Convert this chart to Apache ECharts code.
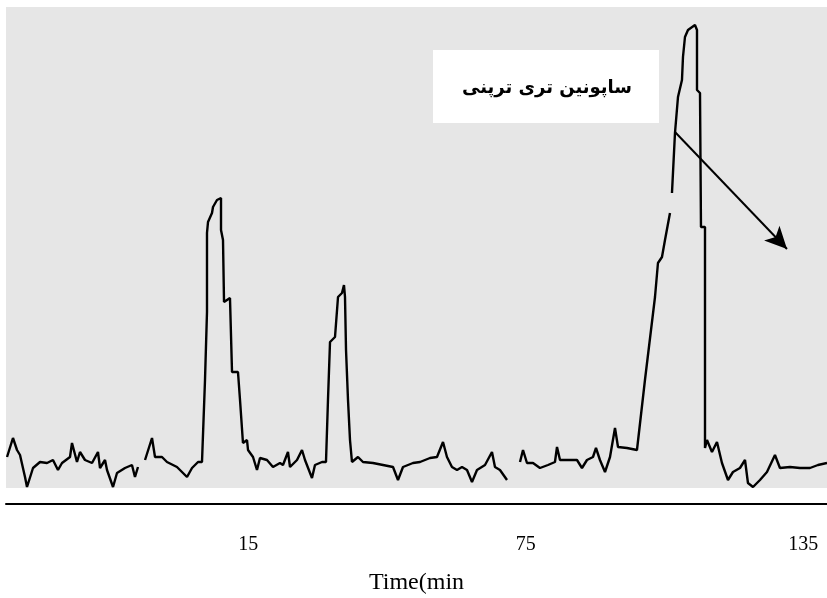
<!DOCTYPE html>
<html>
<head>
<meta charset="utf-8">
<script src="https://cdn.jsdelivr.net/npm/echarts@6/dist/echarts.min.js"></script>
<style>html,body{margin:0;padding:0;background:#fff;}#c{width:827px;height:598px;}</style>
</head>
<body>
<div id="c"></div>
<script>
// Time (min)
const times = [
 -37.16,-35.87,-35.0,-34.35,-33.27,-32.84,-31.54,-30.03,-28.51,-27.22,-26.14,-25.27,-23.54,-23.11,-22.03,-21.38,-20.30,-18.78,-17.49,-17.05,-15.97,-15.54,-14.24,-13.38,-11.65,-10.14,-9.49,-8.84,
 -8.0,
 -7.32,-5.81,-5.16,-3.65,-2.57,-0.41,1.76,2.84,4.14,5.0,
 5.65,6.08,6.08,6.30,7.16,7.38,8.24,8.46,9.11,9.11,9.54,9.76,11.05,11.49,12.78,13.22,13.86,
 14.73,14.95,16.03,16.89,17.54,19.05,20.35,21.86,22.51,23.59,24.03,25.54,26.62,27.27,28.78,29.43,30.95,31.81,
 32.24,32.68,33.76,34.41,35.27,35.70,35.92,36.14,36.57,37.0,37.43,
 38.73,39.81,41.97,44.14,46.30,47.38,48.46,50.62,52.14,54.30,55.81,57.11,57.97,59.05,60.14,61.22,62.30,63.38,64.46,66.19,67.70,68.35,69.43,70.95,
 72.5,
 73.76,74.41,75.27,76.57,78.08,79.81,81.32,81.76,82.41,84.57,86.08,87.16,88.24,89.54,90.19,91.05,92.14,93.22,94.30,94.95,96.89,99.05,
 100.78,102.95,103.59,104.46,105.11,106.19,
 106.4,
 106.62,107.27,107.92,108.78,109.0,109.43,110.08,111.59,112.03,112.03,112.68,112.89,113.76,113.76,113.76,
 114.19,115.27,116.35,117.43,118.73,119.81,121.32,122.41,123.05,124.14,125.65,127.16,128.89,129.97,132.14,134.30,136.46,138.19,140.14
];
// Detector signal (arbitrary units)
const signal = [
 31,50,38,33,11,1,20,26,25,28,18,25,31,45,26,36,28,25,36,20,28,18,1,15,20,23,11,21,
 null,
 28,50,31,31,26,21,11,20,26,26,
 108,176,255,266,275,281,288,290,290,258,248,186,190,116,116,88,45,
 48,38,31,18,30,28,21,25,23,36,21,28,38,28,10,23,26,26,
 88,146,151,191,195,203,191,138,88,48,26,
 31,26,25,23,21,8,21,25,26,30,31,46,31,21,18,21,18,6,18,23,36,21,18,8,
 null,
 26,38,25,25,20,23,26,41,28,28,28,20,28,31,40,28,16,31,60,41,40,38,
 108,191,225,231,248,275,
 null,
 295,355,391,408,431,451,458,463,458,398,395,261,261,188,40,
 48,36,46,25,8,16,20,28,5,1,8,16,33,20,21,20,20,23,25
];
const tickLabels = [15, 75, 135];
const axisName = 'Time(min';
const annotationText = 'ساپونین تری ترپنی';
const arrowFrom = [107.27, 356];
const arrowTo = [131.49, 239];

const chart = echarts.init(document.getElementById('c'), null, {renderer: 'canvas'});
const seriesData = times.map((t, i) => [t, signal[i] === null ? '-' : signal[i]]);

chart.setOption({
  animation: false,
  backgroundColor: '#ffffff',
  grid: {left: 6, right: 0, top: 7, bottom: 110, containLabel: false, outerBoundsMode: 'none', show: true, backgroundColor: '#e6e6e6', borderWidth: 0},
  xAxis: {
    type: 'value', min: -37.38, max: 140.14,
    offset: 16,
    axisLine: {show: true, onZero: false, lineStyle: {color: '#000', width: 2}},
    axisTick: {show: false},
    splitLine: {show: false},
    axisLabel: {customValues: tickLabels, margin: 31, fontFamily: 'Liberation Serif', fontSize: 20, color: '#000'},
    name: axisName, nameLocation: 'middle', nameGap: 67,
    nameTextStyle: {fontFamily: 'Liberation Serif', fontSize: 24, color: '#000'}
  },
  yAxis: {type: 'value', min: 0, max: 481, show: false},
  series: [{
    type: 'line', data: seriesData, showSymbol: false, connectNulls: false,
    lineStyle: {color: '#000', width: 2.4}, z: 3,
    markLine: {
      silent: true, symbol: ['none', 'arrow'], symbolSize: [16, 22],
      lineStyle: {color: '#000', width: 2, type: 'solid'},
      label: {show: false},
      data: [[{coord: arrowFrom}, {coord: arrowTo}]]
    }
  }],
  graphic: [{
    type: 'group', left: 433, top: 50,
    children: [
      {type: 'rect', shape: {x: 0, y: 0, width: 226, height: 73}, style: {fill: '#fff'}},
      {type: 'text', x: 114, y: 38, style: {text: annotationText, fill: '#000', font: 'bold 18px "DejaVu Sans"', align: 'center', verticalAlign: 'middle'}}
    ]
  }]
});
</script>
</body>
</html>
